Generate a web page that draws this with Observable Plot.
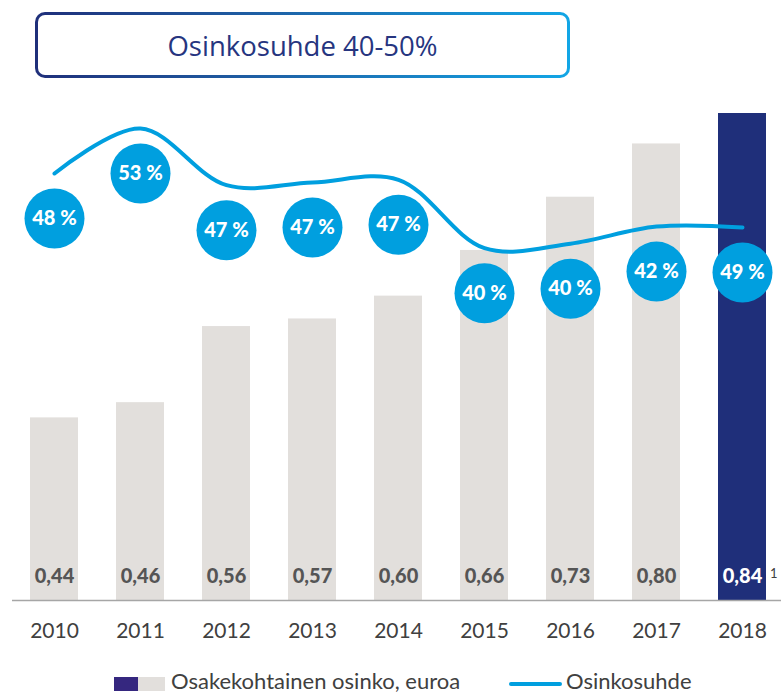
<!DOCTYPE html>
<html>
<head>
<meta charset="utf-8">
<script src="https://cdn.jsdelivr.net/npm/d3@7"></script>
<script src="https://cdn.jsdelivr.net/npm/@observablehq/plot@0.6"></script>
<style>
  html, body { margin: 0; padding: 0; background: #fff; }
  body { width: 781px; height: 694px; overflow: hidden; font-family: Lato, "Open Sans", sans-serif; }
  #header { position: relative; height: 90px; }
  #titlebox {
    position: absolute; left: 35px; top: 12px; width: 535px; height: 66px;
    box-sizing: border-box; border-radius: 10px; border: 3.5px solid transparent;
    background: linear-gradient(#fff, #fff) padding-box,
                linear-gradient(90deg, #1F2F7A 0%, #1E63A8 45%, #12A6E6 100%) border-box;
    display: flex; align-items: center; justify-content: center;
    color: #26357F; font-size: 27.5px; font-family: "Open Sans", Lato, sans-serif;
  }
  #chart { position: relative; width: 781px; height: 560px; }
  #chart svg { position: absolute; left: 0; top: 0; overflow: visible; }
  #legend { position: relative; height: 44px; }
  .sw { position: absolute; top: 27px; height: 14px; }
  .lt { position: absolute; top: 19px; font-size: 22px; color: #404040; line-height: 24px; }
</style>
</head>
<body>
<div id="header"><div id="titlebox">Osinkosuhde 40-50%</div></div>
<div id="chart"></div>
<div id="legend">
  <div class="sw" style="left:114px;width:24px;background:#35277F"></div>
  <div class="sw" style="left:138px;width:27px;background:#E2DFDC"></div>
  <div class="lt" style="left:171px">Osakekohtainen osinko, euroa</div>
  <div class="sw" style="left:509px;width:53px;top:32px;height:4px;border-radius:2px;background:#009FDF"></div>
  <div class="lt" style="left:566px">Osinkosuhde</div>
</div>
<script>
// ---- data ----
const years = ["2010","2011","2012","2013","2014","2015","2016","2017","2018"];
const dividend = [0.44, 0.46, 0.56, 0.57, 0.60, 0.66, 0.73, 0.80, 0.84];
const payoutLine = [48.0, 53.0, 46.7, 47.0, 47.3, 39.7, 40.2, 42.1, 42.0];
const payoutLabel = [48, 53, 47, 47, 47, 40, 40, 42, 49];
const highlightYear = "2018";
const footnote = "1";

const W = 781, H = 560;
const grey = "#E2DFDC", navy = "#1F2F7A", blue = "#009FDF";
const fontFamily = "Lato, 'Open Sans', sans-serif";

const bars = years.map((y, i) => ({year: y, value: dividend[i], hl: y === highlightYear}));
const ratio = years.map((y, i) => ({year: y, line: payoutLine[i], label: payoutLabel[i]}));
const fmt = v => v.toFixed(2).replace(".", ",");

const xScale = {type: "band", domain: years, range: [-8, 804.5], padding: 0.442};

const p1 = Plot.plot({
  width: W, height: H,
  marginLeft: 12, marginRight: 0, marginTop: 0, marginBottom: 0,
  style: {fontFamily, background: "transparent"},
  x: {...xScale, axis: null},
  y: {domain: [0.2, 0.84], range: [510, 23], axis: null},
  marks: [
    Plot.barY(bars, {x: "year", y1: 0.2, y2: "value", fill: d => d.hl ? navy : grey}),
    Plot.ruleY([0.2], {stroke: "#A6A6A6", strokeWidth: 1.5}),
    Plot.text(bars, {x: "year", y: 0.2, dy: -24, text: d => fmt(d.value),
      fill: d => d.hl ? "#fff" : "#555555", fontWeight: 900, fontSize: 20}),
    Plot.text(bars.filter(d => d.hl), {x: "year", y: 0.2, dy: -27, dx: 27.5, text: () => footnote,
      fill: "#404040", fontSize: 13, textAnchor: "start"}),
    Plot.text(bars, {x: "year", y: 0.2, dy: 31, text: "year", fill: "#404040", fontSize: 21})
  ]
});

const p2 = Plot.plot({
  width: W, height: H,
  marginLeft: 12, marginRight: 0, marginTop: 0, marginBottom: 0,
  style: {fontFamily, background: "transparent"},
  x: {...xScale, axis: null},
  y: {domain: [40, 53], range: [155, 38], axis: null},
  marks: [
    Plot.line(ratio, {x: "year", y: "line", stroke: blue, strokeWidth: 4, curve: "catmull-rom", strokeLinecap: "round"}),
    Plot.dot(ratio, {x: "year", y: "line", dy: 45, r: 30, fill: blue}),
    Plot.text(ratio, {x: "year", y: "line", dy: 45, text: d => d.label + " %", fill: "#fff",
      fontWeight: 900, fontSize: 20})
  ]
});

const c = document.getElementById("chart");
c.appendChild(p1);
c.appendChild(p2);
</script>
</body>
</html>
